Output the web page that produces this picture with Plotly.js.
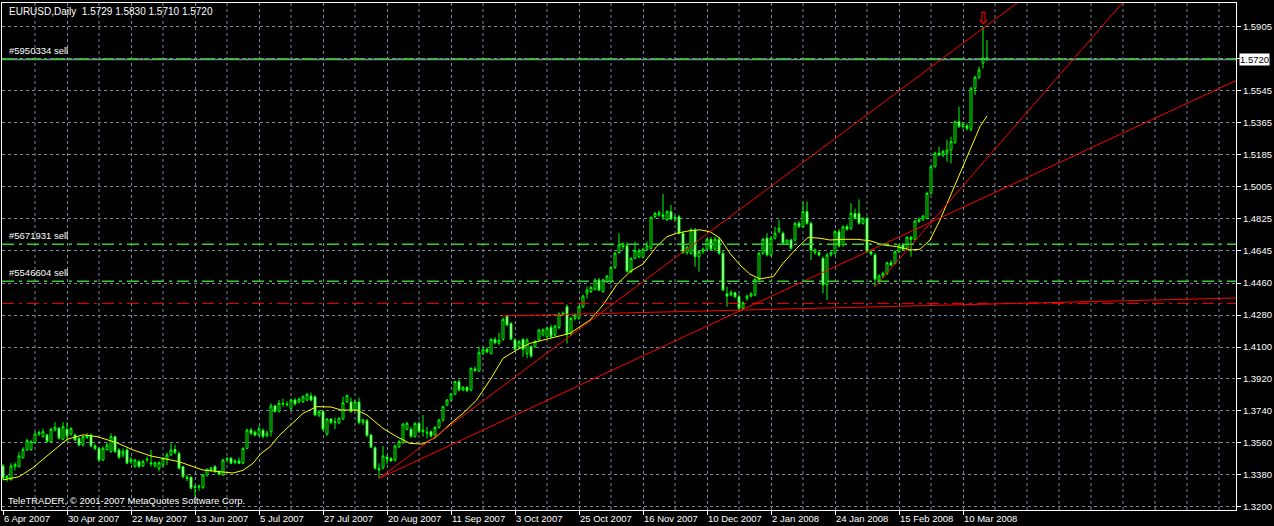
<!DOCTYPE html>
<html>
<head>
<meta charset="utf-8">
<script src="https://cdn.plot.ly/plotly-3.0.1.min.js"></script>
<style>
html, body { margin: 0; padding: 0; background: #000; }
#chart { width: 1274px; height: 526px; }
</style>
</head>
<body>
<div id="chart"></div>
<script>
// EURUSD daily, one bar per trading day from 6 Apr 2007 (bar 0) to 18 Mar 2008 (bar 246)
let opens = [
1.3430,1.3358,1.3352,1.3428,1.3426,1.3478,1.3520,1.3522,1.3561,1.3610,1.3595,1.3604,1.3567,1.3632,1.3642,1.3580,
1.3636,1.3610,1.3604,1.3585,1.3548,1.3590,1.3604,1.3542,1.3529,1.3463,1.3522,1.3510,1.3595,1.3520,1.3492,1.3520,
1.3454,1.3426,1.3454,1.3430,1.3463,1.3448,1.3430,1.3416,1.3435,1.3470,1.3492,1.3522,1.3501,1.3426,1.3366,1.3366,
1.3313,1.3310,1.3309,1.3379,1.3407,1.3426,1.3398,1.3379,1.3466,1.3473,1.3450,1.3458,1.3445,1.3529,1.3632,1.3620,
1.3604,1.3630,1.3600,1.3623,1.3768,1.3739,1.3783,1.3779,1.3754,1.3801,1.3792,1.3792,1.3801,1.3824,1.3820,1.3717,
1.3736,1.3610,1.3694,1.3674,1.3674,1.3694,1.3792,1.3790,1.3745,1.3790,1.3674,1.3685,1.3604,1.3533,1.3407,1.3420,
1.3480,1.3471,1.3463,1.3538,1.3561,1.3636,1.3636,1.3595,1.3670,1.3623,1.3620,1.3623,1.3604,1.3647,1.3689,1.3773,
1.3801,1.3835,1.3905,1.3858,1.3873,1.3858,1.3976,1.3965,1.4064,1.4087,1.4064,1.4143,1.4121,1.4143,1.4275,1.4233,
1.4140,1.4102,1.4143,1.4064,1.4102,1.4102,1.4140,1.4168,1.4158,1.4211,1.4168,1.4211,1.4286,1.4327,1.4173,1.4262,
1.4262,1.4327,1.4402,1.4412,1.4425,1.4478,1.4412,1.4468,1.4468,1.4549,1.4632,1.4666,1.4670,1.4525,1.4600,1.4609,
1.4606,1.4651,1.4656,1.4835,1.4844,1.4844,1.4816,1.4863,1.4825,1.4835,1.4741,1.4632,1.4628,1.4760,1.4609,1.4637,
1.4651,1.4707,1.4651,1.4707,1.4628,1.4399,1.4393,1.4406,1.4384,1.4318,1.4374,1.4387,1.4393,1.4481,1.4628,1.4713,
1.4619,1.4713,1.4750,1.4741,1.4684,1.4703,1.4703,1.4797,1.4778,1.4863,1.4797,1.4632,1.4632,1.4600,1.4450,1.4619,
1.4628,1.4750,1.4675,1.4778,1.4769,1.4853,1.4853,1.4797,1.4825,1.4637,1.4619,1.4478,1.4500,1.4515,1.4575,1.4572,
1.4637,1.4675,1.4656,1.4718,1.4707,1.4807,1.4820,1.4825,1.4966,1.5116,1.5192,1.5182,1.5192,1.5210,1.5252,1.5370,
1.5342,1.5346,1.5327,1.5558,1.5620,1.5700,1.5729
];
let highs = [
1.3440,1.3380,1.3445,1.3450,1.3510,1.3535,1.3585,1.3575,1.3623,1.3630,1.3640,1.3612,1.3645,1.3676,1.3650,1.3676,
1.3676,1.3648,1.3612,1.3595,1.3600,1.3614,1.3612,1.3555,1.3535,1.3540,1.3560,1.3614,1.3600,1.3530,1.3529,1.3530,
1.3480,1.3470,1.3465,1.3465,1.3480,1.3520,1.3455,1.3456,1.3480,1.3505,1.3557,1.3548,1.3510,1.3430,1.3380,1.3372,
1.3323,1.3325,1.3385,1.3415,1.3425,1.3435,1.3405,1.3470,1.3478,1.3480,1.3468,1.3478,1.3535,1.3640,1.3645,1.3630,
1.3655,1.3640,1.3630,1.3783,1.3775,1.3801,1.3809,1.3795,1.3809,1.3812,1.3815,1.3828,1.3843,1.3843,1.3828,1.3745,
1.3745,1.3700,1.3700,1.3704,1.3705,1.3820,1.3833,1.3815,1.3800,1.3815,1.3695,1.3695,1.3610,1.3540,1.3445,1.3542,
1.3491,1.3480,1.3550,1.3575,1.3670,1.3680,1.3650,1.3675,1.3680,1.3717,1.3650,1.3630,1.3655,1.3695,1.3770,1.3808,
1.3840,1.3910,1.3915,1.3880,1.3880,1.3985,1.3990,1.4102,1.4095,1.4100,1.4150,1.4155,1.4181,1.4265,1.4283,1.4240,
1.4150,1.4140,1.4150,1.4150,1.4110,1.4140,1.4200,1.4205,1.4215,1.4225,1.4225,1.4295,1.4300,1.4340,1.4270,1.4290,
1.4335,1.4395,1.4440,1.4445,1.4485,1.4490,1.4485,1.4505,1.4555,1.4635,1.4741,1.4690,1.4690,1.4605,1.4694,1.4655,
1.4660,1.4694,1.4835,1.4860,1.4870,1.4962,1.4870,1.4900,1.4840,1.4845,1.4750,1.4670,1.4770,1.4770,1.4645,1.4660,
1.4715,1.4720,1.4720,1.4720,1.4640,1.4440,1.4420,1.4412,1.4395,1.4355,1.4395,1.4410,1.4490,1.4635,1.4715,1.4741,
1.4725,1.4778,1.4816,1.4750,1.4705,1.4710,1.4805,1.4810,1.4919,1.4919,1.4805,1.4655,1.4640,1.4610,1.4630,1.4640,
1.4760,1.4765,1.4785,1.4790,1.4910,1.4880,1.4932,1.4830,1.4835,1.4650,1.4630,1.4510,1.4525,1.4580,1.4590,1.4645,
1.4680,1.4685,1.4725,1.4725,1.4815,1.4830,1.4845,1.4975,1.5125,1.5200,1.5229,1.5210,1.5267,1.5285,1.5375,1.5455,
1.5365,1.5360,1.5565,1.5630,1.5680,1.5905,1.5830
];
let lows = [
1.3351,1.3341,1.3348,1.3405,1.3422,1.3470,1.3515,1.3515,1.3555,1.3598,1.3590,1.3560,1.3560,1.3625,1.3580,1.3575,
1.3567,1.3600,1.3570,1.3540,1.3540,1.3580,1.3535,1.3518,1.3455,1.3458,1.3515,1.3505,1.3505,1.3470,1.3478,1.3440,
1.3440,1.3420,1.3420,1.3425,1.3450,1.3426,1.3420,1.3400,1.3425,1.3435,1.3485,1.3495,1.3410,1.3360,1.3345,1.3300,
1.3257,1.3290,1.3300,1.3370,1.3395,1.3390,1.3378,1.3375,1.3450,1.3440,1.3440,1.3440,1.3440,1.3525,1.3605,1.3595,
1.3598,1.3585,1.3590,1.3595,1.3730,1.3730,1.3764,1.3765,1.3745,1.3770,1.3780,1.3785,1.3795,1.3795,1.3710,1.3705,
1.3630,1.3600,1.3665,1.3638,1.3665,1.3690,1.3785,1.3730,1.3738,1.3665,1.3660,1.3595,1.3530,1.3410,1.3360,1.3410,
1.3439,1.3455,1.3455,1.3530,1.3555,1.3630,1.3590,1.3590,1.3615,1.3595,1.3585,1.3590,1.3595,1.3640,1.3680,1.3765,
1.3795,1.3828,1.3850,1.3850,1.3845,1.3850,1.3960,1.3960,1.4055,1.4065,1.4058,1.4115,1.4110,1.4135,1.4220,1.4140,
1.4080,1.4090,1.4046,1.4036,1.4040,1.4095,1.4130,1.4160,1.4150,1.4150,1.4160,1.4200,1.4275,1.4120,1.4165,1.4250,
1.4255,1.4320,1.4374,1.4405,1.4420,1.4415,1.4405,1.4460,1.4460,1.4540,1.4625,1.4650,1.4520,1.4515,1.4595,1.4600,
1.4600,1.4640,1.4650,1.4825,1.4835,1.4816,1.4810,1.4815,1.4810,1.4735,1.4625,1.4620,1.4620,1.4553,1.4525,1.4625,
1.4645,1.4645,1.4640,1.4620,1.4415,1.4327,1.4385,1.4375,1.4310,1.4310,1.4360,1.4380,1.4385,1.4475,1.4620,1.4610,
1.4610,1.4705,1.4740,1.4675,1.4675,1.4650,1.4695,1.4770,1.4770,1.4790,1.4590,1.4620,1.4610,1.4403,1.4365,1.4610,
1.4620,1.4660,1.4665,1.4755,1.4760,1.4820,1.4790,1.4790,1.4630,1.4615,1.4440,1.4460,1.4490,1.4505,1.4555,1.4565,
1.4630,1.4645,1.4650,1.4609,1.4700,1.4800,1.4810,1.4820,1.4960,1.5110,1.5175,1.5170,1.5145,1.5135,1.5245,1.5335,
1.5330,1.5320,1.5315,1.5520,1.5610,1.5670,1.5710
];
let closes = [
1.3360,1.3370,1.3430,1.3438,1.3486,1.3522,1.3572,1.3567,1.3610,1.3617,1.3623,1.3567,1.3636,1.3648,1.3585,1.3651,
1.3599,1.3640,1.3576,1.3548,1.3595,1.3602,1.3542,1.3528,1.3463,1.3529,1.3548,1.3595,1.3510,1.3478,1.3510,1.3445,
1.3467,1.3463,1.3426,1.3454,1.3467,1.3442,1.3448,1.3448,1.3473,1.3492,1.3520,1.3505,1.3416,1.3369,1.3360,1.3304,
1.3309,1.3316,1.3379,1.3411,1.3418,1.3398,1.3385,1.3463,1.3473,1.3445,1.3458,1.3445,1.3529,1.3632,1.3614,1.3604,
1.3640,1.3595,1.3615,1.3768,1.3736,1.3783,1.3779,1.3775,1.3801,1.3779,1.3807,1.3820,1.3833,1.3801,1.3717,1.3736,
1.3636,1.3694,1.3674,1.3679,1.3698,1.3786,1.3826,1.3736,1.3790,1.3674,1.3690,1.3600,1.3535,1.3416,1.3416,1.3486,
1.3469,1.3458,1.3542,1.3567,1.3666,1.3670,1.3595,1.3670,1.3623,1.3632,1.3617,1.3598,1.3647,1.3689,1.3764,1.3801,
1.3835,1.3905,1.3858,1.3873,1.3854,1.3980,1.3968,1.4068,1.4087,1.4073,1.4143,1.4124,1.4139,1.4256,1.4224,1.4143,
1.4087,1.4130,1.4087,1.4140,1.4049,1.4130,1.4196,1.4196,1.4205,1.4158,1.4218,1.4286,1.4290,1.4173,1.4262,1.4280,
1.4327,1.4387,1.4421,1.4436,1.4478,1.4421,1.4478,1.4500,1.4549,1.4628,1.4675,1.4681,1.4525,1.4600,1.4643,1.4643,
1.4651,1.4670,1.4831,1.4853,1.4857,1.4835,1.4863,1.4820,1.4831,1.4741,1.4632,1.4662,1.4760,1.4609,1.4637,1.4651,
1.4707,1.4651,1.4707,1.4628,1.4421,1.4387,1.4406,1.4384,1.4318,1.4350,1.4387,1.4399,1.4481,1.4628,1.4707,1.4619,
1.4713,1.4741,1.4769,1.4684,1.4703,1.4656,1.4797,1.4778,1.4863,1.4797,1.4647,1.4647,1.4619,1.4450,1.4619,1.4632,
1.4750,1.4669,1.4778,1.4763,1.4853,1.4825,1.4797,1.4825,1.4637,1.4624,1.4482,1.4500,1.4515,1.4575,1.4562,1.4637,
1.4675,1.4651,1.4718,1.4707,1.4810,1.4820,1.4838,1.4966,1.5116,1.5192,1.5182,1.5201,1.5210,1.5257,1.5370,1.5342,
1.5357,1.5332,1.5558,1.5620,1.5661,1.5729,1.5720
];

// date labels every 16 bars, extra vertical grid lines halfway between them
let dateBars = [0,16,32,48,64,80,96,112,128,144,160,176,192,208,224,240];
let dateLabels = ['6 Apr 2007','30 Apr 2007','22 May 2007','13 Jun 2007','5 Jul 2007','27 Jul 2007','20 Aug 2007',
  '11 Sep 2007','3 Oct 2007','25 Oct 2007','16 Nov 2007','10 Dec 2007','2 Jan 2008','24 Jan 2008','15 Feb 2008','10 Mar 2008'];
let gridBars = [8,24,40,56,72,88,104,120,136,152,168,184,200,216,232,248,256,264,272,280,288,296,304];

// price scale
let priceTicks = [1.3200,1.3380,1.3560,1.3740,1.3920,1.4100,1.4280,1.4460,1.4645,1.4825,1.5005,1.5185,1.5365,1.5545,1.5725,1.5905];
let priceLabels = ['1.3200','1.3380','1.3560','1.3740','1.3920','1.4100','1.4280','1.4460','1.4645','1.4825','1.5005','1.5185','1.5365','1.5545','','1.5905'];

// moving average line
let maBars = [0,4,7.5,11.75,16,20,23.5,28.4,32.5,37,41,44,47.5,50,54,57.5,60,62.5,64.5,66.75,69,71.75,75,78.4,82,84.6,
  88.4,91,95,98.4,101.75,105,108.4,111.75,115,118.4,121.75,125,128.4,131.75,136.75,141.75,146.75,150,153.4,156.75,
  160,163.4,166,168.4,171.75,174.25,176.75,179.25,181.75,184.25,186.75,189.25,192.6,195,198.4,201.3,204.25,206.75,
  210,213.4,216.75,220,223.4,226.75,229.25,231.75,234.25,236.75,240,242.6,244.25,246];
let maValues = [1.3351,1.3369,1.3420,1.3501,1.3580,1.3605,1.3595,1.3561,1.3520,1.3486,1.3468,1.3454,1.3426,1.3407,1.3398,
  1.3390,1.3405,1.3445,1.3500,1.3538,1.3600,1.3660,1.3726,1.3764,1.3762,1.3745,1.3745,1.3717,1.3642,1.3595,1.3557,
  1.3553,1.3595,1.3666,1.3726,1.3801,1.3914,1.4036,1.4083,1.4121,1.4149,1.4177,1.4252,1.4337,1.4450,1.4525,1.4568,
  1.4666,1.4722,1.4741,1.4756,1.4760,1.4750,1.4713,1.4628,1.4562,1.4510,1.4484,1.4497,1.4572,1.4656,1.4718,1.4713,
  1.4703,1.4707,1.4707,1.4699,1.4675,1.4666,1.4647,1.4651,1.4703,1.4816,1.4947,1.5116,1.5248,1.5342,1.5402];

// trend lines: two anchor points (bar, price), drawn as rays to the right
let trendStart = [94, 94, 218, 124.5];
let trendStartPrice = [1.3360, 1.3360, 1.4440, 1.4275];
let trendEnd = [300, 245, 246, 308];
let trendEndPrice = [1.5515, 1.5896, 1.5164, 1.4376];

// open orders and horizontal levels
let orderNames = ['#5950334 sell', '#5671931 sell', '#5546604 sell'];
let orderPrices = [1.5723, 1.4679, 1.4470];
let redLevel = 1.4346;
let bidPrice = 1.5720;

let symbol = 'EURUSD,Daily';
let copyright = 'TeleTRADER, \u00a9 2001-2007 MetaQuotes Software Corp.';

let xMin = -0.25, xMax = 308.25;
let bars = closes.map((c, i) => i);
let last = closes.length - 1;

let lime = '#00ff00';
let gridCol = '#778899';
let font = 'Liberation Sans, Arial, sans-serif';

let traces = [{
    type: 'candlestick',
    x: bars, open: opens, high: highs, low: lows, close: closes,
    increasing: {line: {color: lime, width: 1}, fillcolor: '#000000'},
    decreasing: {line: {color: lime, width: 1}, fillcolor: '#ffffff'},
    whiskerwidth: 0,
    hoverinfo: 'skip'
}, {
    type: 'scatter', mode: 'lines',
    x: maBars, y: maValues,
    line: {color: '#ffff00', width: 1},
    hoverinfo: 'skip'
}];

for (let k = 0; k < trendStart.length; k++) {
    let slope = (trendEndPrice[k] - trendStartPrice[k]) / (trendEnd[k] - trendStart[k]);
    traces.push({
        type: 'scatter', mode: 'lines',
        x: [trendStart[k], xMax],
        y: [trendStartPrice[k], trendStartPrice[k] + slope * (xMax - trendStart[k])],
        line: {color: '#ff0000', width: 1},
        hoverinfo: 'skip'
    });
}

let dashDot = '12px,5px,3px,5px';
let shapes = [];
let annotations = [];

// extra vertical grid lines
gridBars.forEach(b => {
    shapes.push({type: 'line', xref: 'x', x0: b, x1: b, yref: 'paper', y0: 0, y1: 1,
        line: {color: gridCol, width: 1, dash: '3px,3px'}, layer: 'below'});
});

shapes.push({type: 'line', xref: 'paper', x0: 0, x1: 1, yref: 'y', y0: bidPrice, y1: bidPrice,
    line: {color: gridCol, width: 1.5}, layer: 'above'});
shapes.push({type: 'line', xref: 'paper', x0: 0, x1: 1, yref: 'y', y0: redLevel, y1: redLevel,
    line: {color: '#ff0000', width: 1, dash: dashDot}, layer: 'above'});

orderNames.forEach((name, k) => {
    shapes.push({type: 'line', xref: 'paper', x0: 0, x1: 1, yref: 'y', y0: orderPrices[k], y1: orderPrices[k],
        line: {color: '#32cd32', width: 1.5, dash: dashDot}, layer: 'above'});
    annotations.push({xref: 'paper', x: 0.004, xanchor: 'left', yref: 'y', y: orderPrices[k], yanchor: 'bottom',
        yshift: 1, text: name, showarrow: false, font: {family: font, size: 9.5, color: '#ffffff'}});
});

annotations.push({
    xref: 'paper', x: 0.004, xanchor: 'left', yref: 'paper', y: 1, yanchor: 'top', yshift: -1,
    text: symbol + '&nbsp;&nbsp;' + [opens[last], highs[last], lows[last], closes[last]].map(v => v.toFixed(4)).join(' '),
    showarrow: false, font: {family: font, size: 10, color: '#ffffff'}
});
annotations.push({
    xref: 'paper', x: 0.003, xanchor: 'left', yref: 'paper', y: 0, yanchor: 'bottom', yshift: 2,
    text: copyright, showarrow: false, font: {family: font, size: 9.5, color: '#ffffff'}
});
annotations.push({
    xref: 'paper', x: 1, xanchor: 'left', xshift: 3, yref: 'y', y: bidPrice,
    text: bidPrice.toFixed(4), showarrow: false, bgcolor: '#ffffff', borderpad: 0,
    font: {family: font, size: 9.5, color: '#000000'}
});
// sell arrow above the spike bar
annotations.push({
    xref: 'x', x: last - 1, yref: 'y', y: highs[last - 1], yanchor: 'bottom', yshift: -3,
    text: '\u21e9', showarrow: false, font: {family: 'DejaVu Sans', size: 17, color: '#ff0000'}
});

let layout = {
    width: 1274, height: 526,
    margin: {l: 2, r: 38, t: 3, b: 16},
    paper_bgcolor: '#000000', plot_bgcolor: '#000000',
    showlegend: false,
    font: {family: font, size: 9.5, color: '#ffffff'},
    xaxis: {
        range: [xMin, xMax], fixedrange: true,
        rangeslider: {visible: false},
        tickmode: 'array', tickvals: dateBars, ticktext: dateLabels,
        ticks: 'outside', ticklen: 4, tickcolor: '#ffffff',
        ticklabelposition: 'outside right',
        tickfont: {family: font, size: 9.5, color: '#ffffff'},
        showgrid: true, gridcolor: gridCol, griddash: '3px,3px', gridwidth: 1,
        showline: true, linecolor: '#ffffff', linewidth: 1, mirror: true,
        zeroline: false
    },
    yaxis: {
        side: 'right', range: [1.31816, 1.60386], fixedrange: true,
        tickmode: 'array', tickvals: priceTicks, ticktext: priceLabels,
        ticks: 'outside', ticklen: 4, tickcolor: '#ffffff',
        tickfont: {family: font, size: 9.5, color: '#ffffff'},
        showgrid: true, gridcolor: gridCol, griddash: '3px,3px', gridwidth: 1,
        showline: true, linecolor: '#ffffff', linewidth: 1, mirror: true,
        zeroline: false
    },
    shapes: shapes,
    annotations: annotations
};

Plotly.newPlot('chart', traces, layout, {displayModeBar: false, staticPlot: true});
</script>
</body>
</html>
